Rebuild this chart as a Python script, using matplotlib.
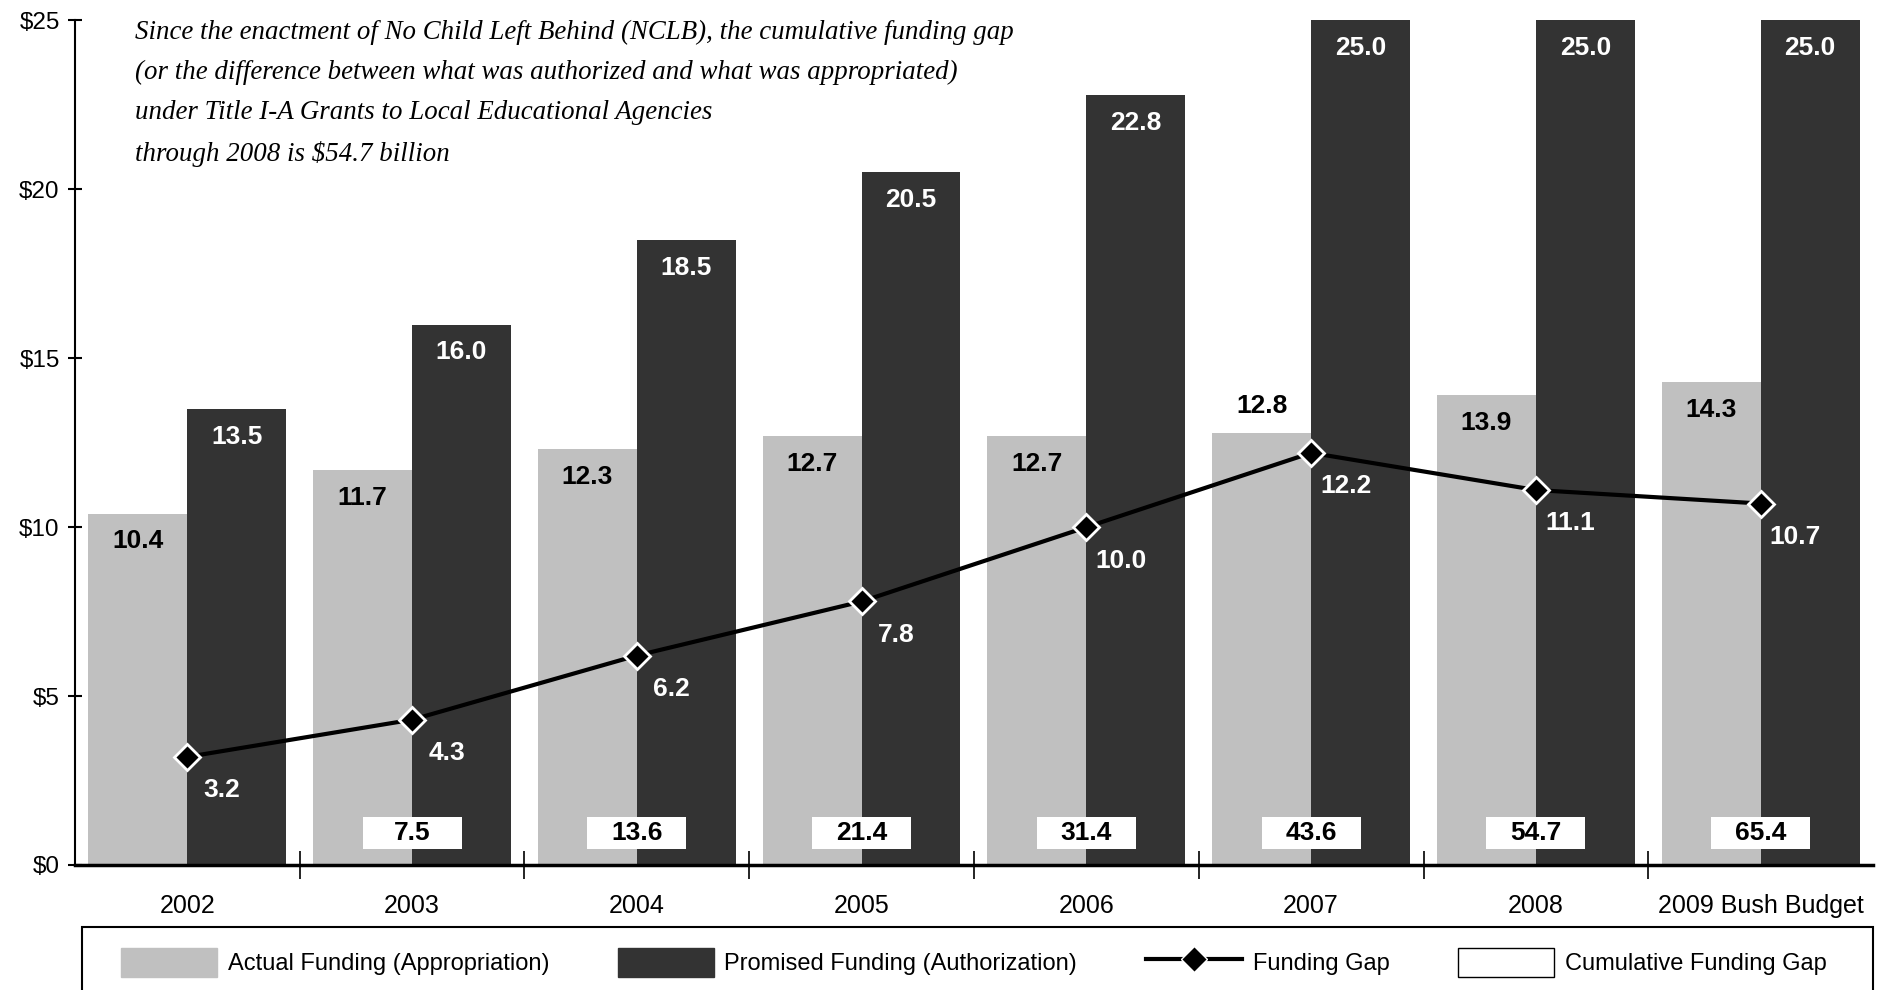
import numpy as np
import matplotlib.pyplot as plt
from matplotlib.patches import Patch, Rectangle
from matplotlib.lines import Line2D

plt.rcParams['font.family'] = ['Liberation Sans', 'DejaVu Sans']

years = ["2002", "2003", "2004", "2005", "2006", "2007", "2008", "2009 Bush Budget"]
actual = [10.4, 11.7, 12.3, 12.7, 12.7, 12.8, 13.9, 14.3]
promised = [13.5, 16.0, 18.5, 20.5, 22.8, 25.0, 25.0, 25.0]
gap = [3.2, 4.3, 6.2, 7.8, 10.0, 12.2, 11.1, 10.7]
cumulative = [None, 7.5, 13.6, 21.4, 31.4, 43.6, 54.7, 65.4]

note = ("Since the enactment of No Child Left Behind (NCLB), the cumulative funding gap\n"
        "(or the difference between what was authorized and what was appropriated)\n"
        "under Title I-A Grants to Local Educational Agencies\n"
        "through 2008 is $54.7 billion")

GRAY = "#c0c0c0"
DARK = "#333333"

fig = plt.figure(figsize=(18.87, 9.90), dpi=100)
ax = fig.add_axes([0.0397, 0.1263, 0.9529, 0.8530])

x = np.arange(len(years))
w = 0.44
ax.bar(x - w / 2, actual, w, color=GRAY, zorder=2)
ax.bar(x + w / 2, promised, w, color=DARK, zorder=2)

# bar value labels
for i, v in enumerate(actual):
    dy = 19 if years[i] == "2007" else -20  # 2007 label sits above the bar
    ax.annotate(f"{v:.1f}", (x[i] - w / 2, v), xytext=(0, dy), textcoords="offset points",
                ha="center", va="center", fontsize=19, fontweight="bold", color="black", zorder=5)
for i, v in enumerate(promised):
    ax.annotate(f"{v:.1f}", (x[i] + w / 2, v), xytext=(0, -20), textcoords="offset points",
                ha="center", va="center", fontsize=19, fontweight="bold", color="white",
                zorder=5, annotation_clip=False)

# funding gap line
ax.plot(x, gap, color="black", linewidth=3, marker="D", markersize=13,
        markerfacecolor="black", markeredgecolor="white", markeredgewidth=2, zorder=4)
for i, v in enumerate(gap):
    ax.annotate(f"{v:.1f}", (x[i], v), xytext=(25, -24), textcoords="offset points",
                ha="center", va="center", fontsize=19, fontweight="bold", color="white", zorder=5)

# cumulative funding gap boxes
for i, c in enumerate(cumulative):
    if c is None:
        continue
    ax.bar(x[i], 0.96, w, bottom=0.46, color="white", zorder=3)
    ax.text(x[i], 0.94, f"{c:.1f}", ha="center", va="center", fontsize=19,
            fontweight="bold", color="black", zorder=5)

ax.text(0.0334, 1.001, note, transform=ax.transAxes, ha="left", va="top",
        fontsize=19.4, style="italic", family=["Liberation Serif"], linespacing=1.8)

ax.set_xlim(-0.5, len(years) - 0.5)
ax.set_ylim(0, 25)
ax.set_yticks([0, 5, 10, 15, 20, 25])
ax.set_yticklabels([f"${t}" for t in [0, 5, 10, 15, 20, 25]], fontsize=17.5)
ax.tick_params(axis="y", direction="inout", length=10, width=1.5, pad=6)

ax.set_xticks(x[:-1] + 0.5)
ax.set_xticklabels([])
ax.tick_params(axis="x", which="major", direction="inout", length=20, width=1.2)
ax.set_xticks(x, years, minor=True)
ax.tick_params(axis="x", which="minor", length=0, pad=21, labelsize=18)

for s in ["top", "right"]:
    ax.spines[s].set_visible(False)
ax.spines["left"].set_linewidth(1.5)
ax.spines["bottom"].set_linewidth(2.5)
ax.spines["bottom"].set_zorder(6)

handles = [
    Patch(facecolor=GRAY, edgecolor=GRAY),
    Patch(facecolor=DARK, edgecolor=DARK),
    Line2D([0], [0], color="black", linewidth=3, marker="D", markersize=13,
           markerfacecolor="black", markeredgecolor="white"),
    Patch(facecolor="white", edgecolor="black", linewidth=1),
]
labels = ["Actual Funding (Appropriation)", "Promised Funding (Authorization)",
          "Funding Gap", "Cumulative Funding Gap"]
leg = fig.legend(handles, labels, loc="upper left", bbox_to_anchor=(0.054, -0.0084, 0.924, 0.07),
                 mode="expand", ncol=4, fontsize=17, frameon=False,
                 handlelength=4.07, handleheight=1.5, handletextpad=0.45,
                 borderpad=0.8, borderaxespad=0)

# legend frame, drawn by hand so it can be wider than the entries
fig.patches.append(Rectangle((0.0435, -0.02), 0.949, 0.0836, transform=fig.transFigure,
                             facecolor="none", edgecolor="black", linewidth=1.5))

fig.savefig("out.png", dpi=100)
